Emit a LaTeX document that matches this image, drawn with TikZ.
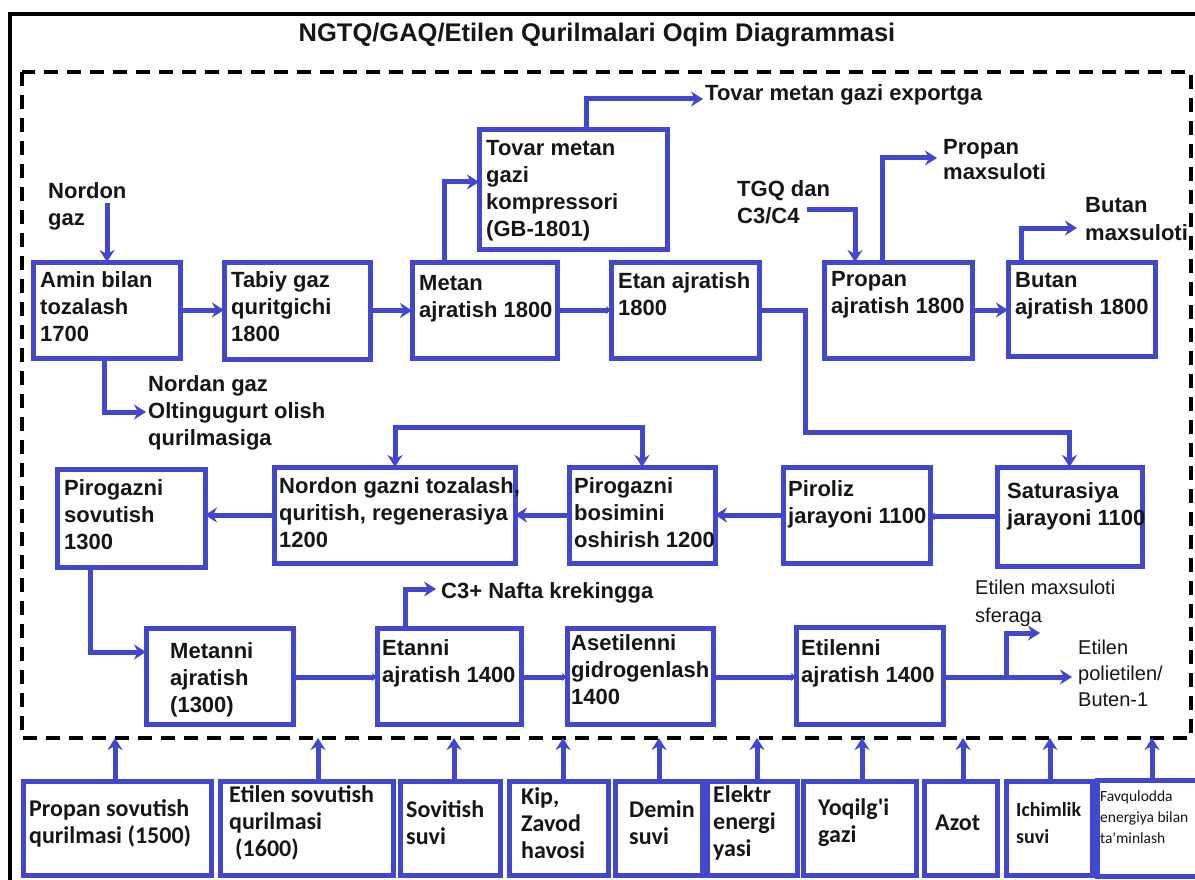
\documentclass[tikz,border=0pt]{standalone}
\usepackage{fontspec}
\setmainfont{Liberation Sans}
\newfontfamily\utilfont{Carlito}
\usetikzlibrary{arrows.meta}
\definecolor{flowblue}{RGB}{66,72,206}
\definecolor{inkgrey}{RGB}{22,22,22}

\begin{document}
\begin{tikzpicture}[x=1pt,y=-1pt,
  flow/.style={draw=flowblue, line width=5pt},
  arr/.style={flow, -{Stealth[length=12pt,width=15pt,inset=4pt]}},
  tick/.style={flow, -{Stealth[length=5pt,width=8pt]}},
  twoway/.style={flow, {Stealth[length=12pt,width=15pt,inset=4pt]}-{Stealth[length=12pt,width=15pt,inset=4pt]}},
  box/.style={draw=flowblue, line width=5pt, rectangle, anchor=north west, inner sep=0pt, outer sep=0pt},
  boxtext/.style={anchor=north west, align=left, inner xsep=7pt, inner ysep=9pt, text=inkgrey,
    font=\fontsize{22}{27}\selectfont\bfseries},
  plain/.style={anchor=north west, align=left, inner sep=0pt, text=inkgrey,
    font=\fontsize{22}{27}\selectfont\bfseries},
  thin/.style={plain, font=\fontsize{20}{27}\selectfont},
  utext/.style={anchor=west, align=left, inner xsep=6pt, inner ysep=0pt, yshift=5pt, text=inkgrey,
    font=\utilfont\fontsize{24}{27}\selectfont\bfseries},
  dashbox/.style={draw=black, line width=3.5pt, dash pattern=on 14pt off 9pt},
]
\clip (0,0) rectangle (1195,880);
\fill[white] (0,0) rectangle (1195,880);

% outer frame and title
\draw[line width=4.5pt] (10,880) -- (10,14) -- (1195,14);
\node[text=inkgrey, font=\fontsize{25.5}{30}\selectfont\bfseries] (title) at (597,35)
  {NGTQ/GAQ/Etilen Qurilmalari Oqim Diagrammasi};

% plant boundary
\draw[dashbox] (22,72) rectangle (1191,738);

% first row: gas processing
\node[box, minimum width=147pt, minimum height=96pt,
  label={[boxtext]north west:{Amin bilan\\tozalash\\1700}}] (amin) at (33,262) {};
\node[box, minimum width=146pt, minimum height=97pt,
  label={[boxtext]north west:{Tabiy gaz\\quritgichi\\1800}}] (tabiy) at (224,262) {};
\node[box, minimum width=145pt, minimum height=96pt,
  label={[boxtext, yshift=-4pt]north west:{Metan\\ajratish 1800}}] (metan) at (412,262) {};
\node[box, minimum width=148pt, minimum height=96pt,
  label={[boxtext, yshift=-1pt]north west:{Etan ajratish\\1800}}] (etan) at (611,262) {};
\node[box, minimum width=148pt, minimum height=96pt,
  label={[boxtext]north west:{Propan\\ajratish 1800}}] (propan) at (824,262) {};
\node[box, minimum width=147pt, minimum height=94pt,
  label={[boxtext, yshift=-1pt]north west:{Butan\\ajratish 1800}}] (butan) at (1008,262) {};
\node[box, minimum width=188pt, minimum height=119pt,
  label={[boxtext, yshift=-1pt]north west:{Tovar metan\\gazi\\kompressori\\(GB-1801)}}] (tovar) at (479,130) {};

% second row: pyrolysis
\node[box, minimum width=148pt, minimum height=98pt,
  label={[boxtext, yshift=-1pt]north west:{Pirogazni\\sovutish\\1300}}] (sovut) at (57,469) {};
\node[box, minimum width=241pt, minimum height=96pt,
  label={[boxtext, yshift=-1pt, inner xsep=5pt]north west:{Nordon gazni tozalash,\\quritish, regenerasiya\\1200}}] (nordon) at (274,467) {};
\node[box, minimum width=146pt, minimum height=96pt,
  label={[boxtext, yshift=-1pt, inner xsep=5pt]north west:{Pirogazni\\bosimini\\oshirish 1200}}] (bosim) at (569,467) {};
\node[box, minimum width=147pt, minimum height=96pt,
  label={[boxtext, yshift=-4pt, inner xsep=5pt]north west:{Piroliz\\jarayoni 1100}}] (piroliz) at (783,467) {};
\node[box, minimum width=145pt, minimum height=99pt,
  label={[boxtext, yshift=-6pt, xshift=3pt]north west:{Saturasiya\\jarayoni 1100}}] (satur) at (997,467) {};

% third row: separation
\node[box, minimum width=147pt, minimum height=96pt,
  label={[boxtext, yshift=-5pt, xshift=17pt]north west:{Metanni\\ajratish\\(1300)}}] (metanni) at (146,628) {};
\node[box, minimum width=144pt, minimum height=96pt,
  label={[boxtext, yshift=-2pt, inner xsep=5pt]north west:{Etanni\\ajratish 1400}}] (etanni) at (377,628) {};
\node[box, minimum width=146pt, minimum height=96pt,
  label={[boxtext, yshift=3pt, inner xsep=4pt]north west:{Asetilenni\\gidrogenlash\\1400}}] (asetil) at (567,628) {};
\node[box, minimum width=147pt, minimum height=97pt,
  label={[boxtext, yshift=-3pt, inner xsep=5pt]north west:{Etilenni\\ajratish 1400}}] (etilenni) at (796,627) {};

% utilities below the boundary
\node[box, minimum width=188pt, minimum height=94pt,
  label={[utext]west:{Propan sovutish\\qurilmasi (1500)}}] (u1) at (23,781) {};
\node[box, minimum width=173pt, minimum height=94pt,
  label={[utext, xshift=3pt]west:{Etilen sovutish\\qurilmasi\\\hspace*{0.25em}(1600)}}] (u2) at (220,781) {};
\node[box, minimum width=100pt, minimum height=94pt,
  label={[utext]west:{Sovitish\\suvi}}] (u3) at (400,781) {};
\node[box, minimum width=99pt, minimum height=94pt,
  label={[utext, xshift=6pt]west:{Kip,\\Zavod\\havosi}}] (u4) at (509,781) {};
\node[box, minimum width=87pt, minimum height=94pt,
  label={[utext, xshift=8pt]west:{Demin\\suvi}}] (u5) at (615,781) {};
\node[box, minimum width=90pt, minimum height=94pt,
  label={[utext]west:{Elektr\\energi\\yasi}}] (u6) at (707,781) {};
\node[box, minimum width=113pt, minimum height=94pt,
  label={[utext, xshift=9pt]west:{Yoqilg\textquotesingle i\\gazi}}] (u7) at (803,781) {};
\node[box, minimum width=73pt, minimum height=94pt,
  label={[utext, xshift=5pt]west:{Azot}}] (u8) at (924,781) {};
\node[box, minimum width=86pt, minimum height=94pt,
  label={[utext, xshift=4pt, font=\utilfont\fontsize{20}{27}\selectfont\bfseries]west:{Ichimlik\\suvi}}] (u9) at (1006,781) {};
\node[box, minimum width=118pt, minimum height=96pt,
  label={[utext, xshift=-3pt, yshift=6pt, font=\utilfont\fontsize{15.5}{21}\selectfont]west:{Favqulodda\\energiya bilan\\ta\textquotesingle minlash}}] (u10) at (1097,780) {};

% free labels
\node[plain] (nordonlbl) at (48,182) {Nordon\\gaz};
\node[plain] (exportlbl) at (705,84) {Tovar metan gazi exportga};
\node[plain] (tgqlbl) at (737,180) {TGQ dan\\C3/C4};
\node[plain, font=\fontsize{22}{25}\selectfont\bfseries] (propanlbl) at (943,139) {Propan\\maxsuloti};
\node[plain, font=\fontsize{22}{28}\selectfont\bfseries] (butanlbl) at (1085,197) {Butan\\maxsuloti};
\node[plain] (sulfurlbl) at (148,375) {Nordan gaz\\Oltingugurt olish\\qurilmasiga};
\node[plain] (naftalbl) at (441,582) {C3+ Nafta krekingga};
\node[thin, font=\fontsize{20}{28}\selectfont] (spherelbl) at (975,580) {Etilen maxsuloti\\sferaga};
\node[thin, font=\fontsize{20}{26}\selectfont] (polylbl) at (1078,640) {Etilen\\polietilen/\\Buten-1};

% connector end points
\coordinate (nin) at (107,203);
\coordinate (m1) at (444,182);
\coordinate (t1) at (586,99);
\coordinate (e1) at (703,99);
\coordinate (g1) at (807,210);
\coordinate (g2) at (855,210);
\coordinate (p1) at (882,158);
\coordinate (p2) at (937,158);
\coordinate (b1) at (1021,228);
\coordinate (b2) at (1077,228);
\coordinate (s1) at (805,432);
\coordinate (a1) at (104,412);
\coordinate (a2) at (146,412);
\coordinate (c1) at (395,427);
\coordinate (c2) at (642,427);
\coordinate (v1) at (90,652);
\coordinate (r3) at (0,677);
\coordinate (k1) at (405,589);
\coordinate (k2) at (436,589);
\coordinate (z1) at (1072,677);
\coordinate (z2) at (1006,677);
\coordinate (z3) at (1040,633);

% first row flows
\draw[arr] (nin) -- (nin |- amin.north);
\draw[arr] (amin.east) -- (amin.east -| tabiy.west);
\draw[arr] (tabiy.east) -- (tabiy.east -| metan.west);
\draw[tick] (metan.east) -- (metan.east -| etan.west);
\draw[arr] (m1 |- metan.north) |- (tovar.west |- m1);
\draw[arr] (t1 |- tovar.north) -- (t1) -- (e1);
\draw[arr] (g1) -- (g2) -- (g2 |- propan.north);
\draw[arr] (p1 |- propan.north) |- (p2);
\draw[arr] (propan.east) -- (propan.east -| butan.west);
\draw[arr] (b1 |- butan.north) |- (b2);
\draw[arr] (amin.south -| a1) |- (a2);
\draw[arr] (etan.east) -| (s1) -| (satur.north);

% second row flows
\draw[tick] (satur.west) -- (satur.west -| piroliz.east);
\draw[arr] (piroliz.west) -- (piroliz.west -| bosim.east);
\draw[arr] (bosim.west) -- (bosim.west -| nordon.east);
\draw[arr] (nordon.west) -- (nordon.west -| sovut.east);
\draw[twoway] (c1 |- nordon.north) -- (c1) -- (c2) -- (c2 |- bosim.north);
\draw[arr] (v1 |- sovut.south) -- (v1) -- (v1 -| metanni.west);

% third row flows
\draw[tick] (metanni.east |- r3) -- (etanni.west |- r3);
\draw[tick] (etanni.east |- r3) -- (asetil.west |- r3);
\draw[tick] (asetil.east |- r3) -- (etilenni.west |- r3);
\draw[arr] (k1 |- etanni.north) |- (k2);
\draw[arr] (etilenni.east |- r3) -- (z1);
\draw[arr] (z2) |- (z3);

% utility supplies into the boundary
\foreach \u/\x in {u1/115, u2/318, u3/454, u4/563, u5/659, u6/757, u7/862, u8/963, u9/1050, u10/1152}
  \draw[arr] (\x,0 |- \u.north) -- (\x,738);
\end{tikzpicture}
\end{document}
